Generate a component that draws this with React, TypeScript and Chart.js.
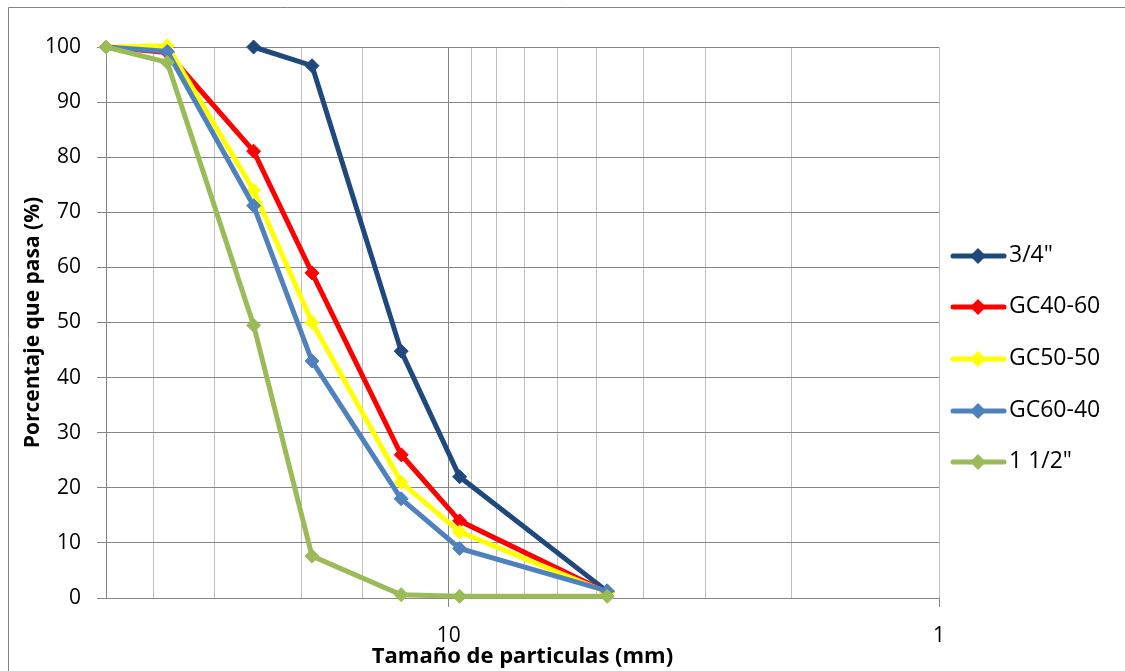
import React, { useEffect, useRef } from "react";
import { Chart, registerables } from "chart.js";

Chart.register(...registerables);

// Sieve openings (mm) and percent passing for each gradation
const sieveSizes = [50, 37.5, 25, 19, 12.5, 9.5, 4.75];
const seriesLabels = ['3/4"', "GC40-60", "GC50-50", "GC60-40", '1 1/2"'];
const passing34 = [null, null, 100, 96.6, 44.8, 22, 1.2];
const passingGC4060 = [100, 99, 81.1, 59, 26, 14, 1];
const passingGC5050 = [100, 100.2, 74, 50, 21, 12, 1];
const passingGC6040 = [100, 99.2, 71.2, 43, 18, 9, 1.3];
const passing112 = [100, 97.2, 49.5, 7.6, 0.6, 0.3, 0.3];
const seriesColors = ["#1F497D", "#FF0000", "#FFFF00", "#4F81BD", "#9BBB59"];
const xTickLabels = [10, 1];
const yTicks = { min: 0, max: 100, step: 10 };

const allSeries = [passing34, passingGC4060, passingGC5050, passingGC6040, passing112];

const FONT = "'Open Sans', 'Noto Sans', sans-serif";

const legendPlugin = {
  id: "sideLegend",
  afterDraw(chart: any) {
    const ctx = chart.ctx;
    const rowY = [249, 300, 352, 404, 455];
    ctx.save();
    chart.data.datasets.forEach((ds: any, i: number) => {
      const y = rowY[i];
      ctx.strokeStyle = ds.borderColor;
      ctx.lineWidth = 5;
      ctx.lineCap = "round";
      ctx.beginPath();
      ctx.moveTo(945, y);
      ctx.lineTo(996, y);
      ctx.stroke();
      ctx.fillStyle = ds.borderColor;
      ctx.beginPath();
      ctx.moveTo(970, y - 8);
      ctx.lineTo(978, y);
      ctx.lineTo(970, y + 8);
      ctx.lineTo(962, y);
      ctx.closePath();
      ctx.fill();
      ctx.fillStyle = "#000";
      ctx.font = `23px ${FONT}`;
      ctx.textBaseline = "middle";
      ctx.textAlign = "left";
      ctx.fillText(ds.label, 1001, y - 1);
    });
    ctx.restore();
  },
};

const framePlugin = {
  id: "outerFrame",
  beforeDraw(chart: any) {
    const ctx = chart.ctx;
    ctx.save();
    ctx.strokeStyle = "#868686";
    ctx.lineWidth = 1;
    ctx.beginPath();
    ctx.moveTo(0.5, chart.height);
    ctx.lineTo(0.5, 0.5);
    ctx.lineTo(chart.width, 0.5);
    ctx.stroke();
    ctx.restore();
  },
};

export default function App() {
  const canvasRef = useRef<HTMLCanvasElement | null>(null);

  useEffect(() => {
    if (!canvasRef.current) return;
    const datasets = allSeries.map((vals, i) => ({
      label: seriesLabels[i],
      data: sieveSizes
        .map((x, j) => ({ x, y: vals[j] }))
        .filter((p) => p.y !== null),
      borderColor: seriesColors[i],
      backgroundColor: seriesColors[i],
      borderWidth: 5,
      pointStyle: "rectRot",
      pointRadius: 7,
      pointBorderWidth: 1,
      pointBackgroundColor: seriesColors[i],
      pointBorderColor: seriesColors[i],
      tension: 0,
      clip: false,
      order: allSeries.length - 1 - i,
    }));

    const chart = new Chart(canvasRef.current, {
      type: "line",
      data: { datasets } as any,
      options: {
        animation: false,
        responsive: false,
        devicePixelRatio: 1,
        layout: { padding: { left: 0, top: 40, right: 186, bottom: 0 } },
        plugins: {
          legend: { display: false },
          tooltip: { enabled: false },
        },
        scales: {
          x: {
            type: "logarithmic",
            reverse: true,
            min: 1,
            max: 50,
            border: { display: true, color: "#868686", width: 1 },
            grid: {
              color: (c: any) => (c.tick && c.tick.value === 10 ? "#868686" : "#BFBFBF"),
              tickColor: (c: any) =>
                c.tick && xTickLabels.includes(c.tick.value) ? "#868686" : "rgba(0,0,0,0)",
              tickLength: 9,
              drawTicks: true,
            },
            ticks: {
              autoSkip: false,
              maxRotation: 0,
              padding: 16,
              color: "#000",
              font: { family: FONT, size: 21 },
              callback: (v: any) => (xTickLabels.includes(Number(v)) ? String(v) : ""),
            },
            title: {
              display: true,
              text: "Tamaño de particulas (mm)",
              color: "#000",
              font: { family: FONT, size: 22, weight: "bold" },
              padding: { top: 0, bottom: 1 },
            },
            afterFit: (s: any) => {
              s.height = 73;
            },
          },
          y: {
            min: yTicks.min,
            max: yTicks.max,
            border: { display: true, color: "#868686", width: 1 },
            grid: { color: "#868686", tickLength: 9, tickColor: "#868686" },
            ticks: {
              stepSize: yTicks.step,
              padding: 16,
              color: "#000",
              font: { family: FONT, size: 21 },
            },
            title: {
              display: true,
              text: "Porcentaje que pasa (%)",
              color: "#000",
              font: { family: FONT, size: 21, weight: "bold" },
              padding: { top: 12, bottom: 0 },
            },
            afterFit: (s: any) => {
              s.width = 98;
            },
          },
        },
      },
      plugins: [framePlugin, legendPlugin],
    });
    return () => chart.destroy();
  }, []);

  return (
    <div style={{ position: "absolute", left: 8, top: 7 }}>
      <canvas ref={canvasRef} width={1117} height={664} style={{ display: "block" }} />
    </div>
  );
}
